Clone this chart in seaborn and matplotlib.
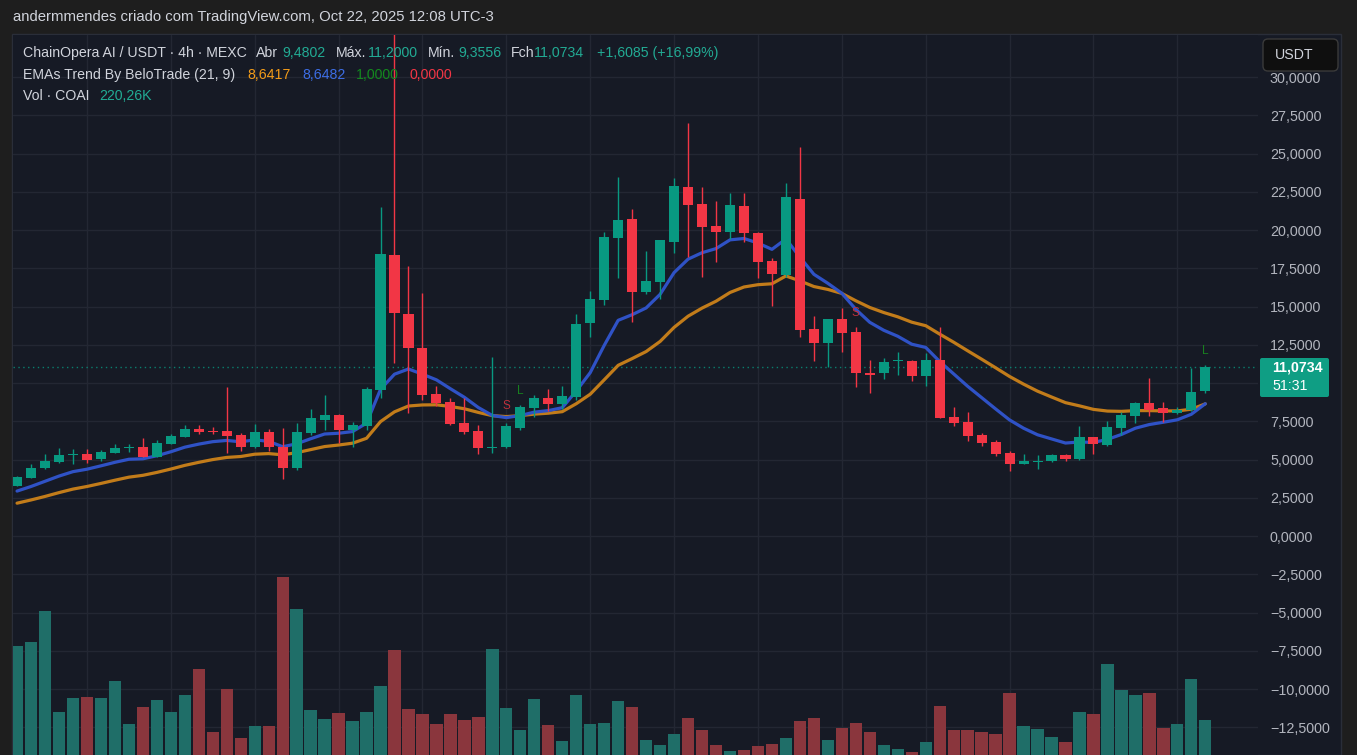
import matplotlib
matplotlib.use("Agg")
import matplotlib.pyplot as plt
from matplotlib.patches import Rectangle, FancyBboxPatch
import numpy as np
import seaborn as sns

# COAI / USDT 4h candles (oldest first)
opens = [3.29, 3.81, 4.46, 4.86, 5.30, 5.36, 5.05, 5.44, 5.75, 5.80,
         5.18, 6.03, 6.49, 6.99, 6.86, 6.86, 6.60, 5.80, 6.80, 5.80,
         4.46, 6.71, 7.60, 7.90, 6.93, 7.21, 9.54, 18.37, 14.50, 12.27,
         9.28, 8.74, 7.37, 6.86, 5.76, 5.80, 7.08, 8.39, 9.00, 8.63,
         9.10, 13.90, 15.42, 19.50, 20.72, 15.97, 16.62, 19.24, 22.83, 21.70,
         20.26, 19.89, 21.57, 19.78, 17.97, 17.06, 22.03, 13.51, 12.64, 14.18,
         13.35, 10.60, 10.63, 11.46, 11.44, 10.46, 11.50, 7.80, 7.45, 6.60,
         6.16, 5.44, 4.71, 4.84, 4.90, 5.29, 5.05, 6.45, 5.95, 7.08,
         7.86, 8.67, 8.34, 8.06, 8.23, 9.4802]
highs = [3.92, 4.71, 5.36, 5.75, 5.69, 5.71, 5.62, 6.01, 6.01, 6.40,
         6.27, 6.67, 7.25, 7.24, 7.12, 9.76, 6.75, 7.32, 7.00, 7.04,
         7.40, 8.28, 9.20, 7.95, 7.47, 9.76, 21.52, 33.50, 17.65, 15.86,
         9.80, 9.00, 9.02, 7.25, 11.68, 7.40, 8.56, 9.20, 9.60, 9.80,
         14.50, 16.00, 19.90, 23.50, 21.35, 18.60, 19.35, 23.42, 27.00, 22.83,
         21.90, 22.40, 22.40, 19.90, 18.15, 23.10, 25.45, 14.38, 14.18, 14.88,
         13.68, 11.50, 11.66, 12.05, 11.50, 11.94, 13.68, 8.45, 8.12, 6.75,
         6.30, 5.58, 5.36, 5.32, 5.36, 5.36, 7.19, 6.50, 7.50, 8.12,
         8.78, 10.30, 8.78, 8.45, 10.96, 11.20]
lows = [3.25, 3.78, 4.40, 4.80, 4.71, 4.77, 4.92, 5.40, 5.49, 5.15,
        5.15, 6.00, 6.45, 6.70, 6.67, 5.40, 5.56, 5.75, 5.58, 3.71,
        4.30, 6.60, 6.90, 6.08, 5.84, 6.93, 9.02, 11.29, 8.04, 8.89,
        8.50, 7.25, 6.67, 5.34, 5.44, 5.74, 6.93, 7.80, 8.20, 8.30,
        8.90, 13.00, 15.10, 16.84, 13.97, 15.80, 15.47, 18.52, 18.26, 16.95,
        17.90, 19.40, 19.20, 16.84, 15.05, 16.90, 13.03, 11.46, 11.07, 12.05,
        9.76, 9.33, 10.24, 10.50, 10.15, 9.80, 7.70, 7.19, 6.19, 5.86,
        5.23, 4.27, 4.70, 4.36, 4.84, 4.90, 5.00, 5.34, 5.90, 6.62,
        7.39, 7.84, 7.47, 8.00, 8.15, 9.3556]
closes = [3.88, 4.44, 4.92, 5.29, 5.36, 4.99, 5.49, 5.75, 5.80, 5.18,
          6.06, 6.54, 6.99, 6.80, 6.80, 6.56, 5.80, 6.80, 5.80, 4.46,
          6.80, 7.69, 7.90, 6.93, 7.25, 9.60, 18.43, 14.55, 12.27, 9.22,
          8.71, 7.32, 6.82, 5.73, 5.82, 7.19, 8.45, 9.00, 8.60, 9.15,
          13.86, 15.47, 19.56, 20.65, 15.97, 16.67, 19.35, 22.88, 21.63, 20.20,
          19.87, 21.63, 19.83, 17.93, 17.10, 22.13, 13.46, 12.64, 14.18, 13.29,
          10.63, 10.55, 11.35, 11.50, 10.48, 11.50, 7.73, 7.37, 6.54, 6.10,
          5.36, 4.71, 4.90, 4.90, 5.29, 5.01, 6.45, 5.99, 7.10, 7.91,
          8.67, 8.23, 8.02, 8.23, 9.41, 11.0734]
volume_k = [516, 532, 656, 252, 308, 312, 308, 376, 204, 272,
            300, 252, 320, 424, 172, 344, 148, 196, 196, 792,
            664, 260, 224, 248, 216, 252, 356, 500, 264, 244,
            204, 244, 220, 232, 504, 268, 180, 304, 200, 136,
            320, 204, 208, 296, 272, 140, 120, 164, 228, 180,
            120, 96, 100, 116, 124, 148, 216, 228, 140, 188,
            208, 172, 120, 104, 92, 132, 276, 180, 180, 172,
            164, 328, 196, 184, 152, 132, 252, 244, 444, 340,
            320, 328, 188, 204, 384, 220.26]
# EMA lines as drawn on the chart
ema9 = [2.94, 3.24, 3.58, 3.92, 4.21, 4.37, 4.59, 4.82, 5.02, 5.05,
        5.25, 5.51, 5.81, 6.01, 6.17, 6.25, 6.16, 6.29, 6.19, 5.84,
        6.03, 6.36, 6.67, 6.72, 6.83, 7.38, 9.59, 10.58, 10.92, 10.58,
        10.21, 9.63, 9.07, 8.40, 7.88, 7.74, 7.88, 8.10, 8.20, 8.39,
        9.48, 10.68, 12.46, 14.10, 14.47, 14.91, 15.80, 17.22, 18.10, 18.52,
        18.79, 19.36, 19.45, 19.15, 18.74, 19.42, 18.23, 17.11, 16.52, 15.87,
        14.82, 13.97, 13.45, 13.06, 12.54, 12.33, 11.41, 10.60, 9.79, 9.05,
        8.31, 7.59, 7.05, 6.62, 6.35, 6.08, 6.15, 6.12, 6.32, 6.64,
        7.05, 7.29, 7.44, 7.60, 7.96, 8.6482]
ema21 = [2.15, 2.36, 2.59, 2.84, 3.07, 3.24, 3.44, 3.65, 3.85, 3.97,
         4.16, 4.38, 4.62, 4.82, 5.00, 5.14, 5.20, 5.35, 5.39, 5.31,
         5.45, 5.65, 5.85, 5.95, 6.07, 6.39, 7.48, 8.12, 8.50, 8.57,
         8.58, 8.47, 8.32, 8.08, 7.87, 7.81, 7.87, 7.97, 8.03, 8.13,
         8.65, 9.27, 10.21, 11.16, 11.60, 12.06, 12.72, 13.64, 14.37, 14.90,
         15.35, 15.92, 16.28, 16.43, 16.49, 17.00, 16.68, 16.31, 16.12, 15.86,
         15.38, 14.94, 14.61, 14.33, 13.98, 13.75, 13.20, 12.67, 12.11, 11.56,
         11.00, 10.43, 9.93, 9.47, 9.09, 8.72, 8.51, 8.28, 8.17, 8.15,
         8.20, 8.20, 8.18, 8.18, 8.29, 8.6417]
# trend signals: (candle index, price, letter)
signals = [(35, 8.5, "S"), (36, 9.45, "L"), (60, 14.6, "S"), (85, 12.1, "L")]
last_price = 11.0734
price_ticks = [-12.5, -10, -7.5, -5, -2.5, 0, 2.5, 5, 7.5, 10, 12.5,
               15, 17.5, 20, 22.5, 25, 27.5, 30]
# the 10,0000 label sits under the last-price tag
hidden_ticks = [10]
day_lines = list(range(5, 86, 6))

BG = "#161a25"
OUTER = "#1e1e1e"
GRID = "#232733"
UP = "#089981"
DOWN = "#f23645"
UP_VOL = "#1f6e68"
DOWN_VOL = "#8a363d"
TXT = "#d1d4dc"
TEAL_TXT = "#22ab94"

sns.set_theme(style="dark", rc={"axes.facecolor": BG, "figure.facecolor": OUTER})
plt.rcParams['font.family'] = ['Liberation Sans', 'DejaVu Sans']

W, H = 1357, 755
def px(x):
    return x / W
def py(y):
    return 1 - y / H

fig = plt.figure(figsize=(W / 100, H / 100), dpi=100)
fig.add_artist(Rectangle((px(12), 0), px(1341) - px(12), py(34), transform=fig.transFigure,
                         facecolor=BG, edgecolor="#2a2e39", lw=1, zorder=-5))

rect = [px(13), 0, px(1258) - px(13), py(35)]
xlim = (-0.29, 88.77)
idx = np.arange(len(closes))
o = np.array(opens); c = np.array(closes)
up = c >= o

# volume sits underneath the price pane
axv = fig.add_axes(rect, zorder=0)
axv.set_facecolor(BG)
axv.bar(idx, volume_k, width=0.88, color=np.where(up, UP_VOL, DOWN_VOL), linewidth=0, zorder=2)
axv.set_xlim(*xlim)
axv.set_ylim(80, 2960)
axv.set_yticks([])
axv.set_xticks([])
for s in axv.spines.values():
    s.set_visible(False)

ax = fig.add_axes(rect, zorder=1)
ax.patch.set_visible(False)
ax.set_xlim(*xlim)
ax.set_ylim(-14.31, 32.75)

# grid drawn in the volume axes so that bars cover it
for t in price_ticks:
    axv.plot([0, 1], [t, t], transform=ax.get_yaxis_transform(), color=GRID, lw=1, zorder=1)
for d in day_lines:
    axv.axvline(d, color=GRID, lw=1, zorder=1)

sns.lineplot(x=idx, y=ema21, ax=ax, color="#c27c1a", lw=2.3, zorder=2)
sns.lineplot(x=idx, y=ema9, ax=ax, color="#2f52c6", lw=2.3, zorder=2)

cols = np.where(up, UP, DOWN)
ax.vlines(idx, lows, highs, colors=cols, lw=1, zorder=3)
body = np.maximum(np.abs(c - o), 0.08)
ax.bar(idx, body, bottom=np.minimum(o, c), width=0.72, color=cols, linewidth=0, zorder=4)

ax.axhline(last_price, color=UP, lw=1, ls=(0, (1, 2.5)), alpha=0.8, zorder=1)

for i, p, letter in signals:
    ax.text(i, p, letter, color="#c0303c" if letter == "S" else "#18801f",
            fontsize=8.5, ha="center", va="center", zorder=5)

ax.set_xticks([])
ax.set_yticks(price_ticks)
ax.yaxis.tick_right()
ax.set_yticklabels(["" if t in hidden_ticks else f"{t:.4f}".replace(".", ",").replace("-", "\u2212")
                    for t in price_ticks])
ax.tick_params(axis="y", length=0, pad=8.6, labelcolor="#b2b5be", labelsize=10.3)
ax.grid(False)
for s in ax.spines.values():
    s.set_visible(False)

# header and legend
fig.text(px(13), py(17), "andermmendes criado com TradingView.com, Oct 22, 2025 12:08 UTC-3",
         color=TXT, fontsize=10.7, va="center")
legend_rows = [
    (53, [("ChainOpera AI / USDT \u00b7 4h \u00b7 MEXC", TXT, 23), ("Abr", TXT, 256), ("9,4802", TEAL_TXT, 282),
          ("M\u00e1x.", TXT, 336), ("11,2000", TEAL_TXT, 368), ("M\u00edn.", TXT, 428), ("9,3556", TEAL_TXT, 458),
          ("Fch", TXT, 511), ("11,0734", TEAL_TXT, 534), ("+1,6085 (+16,99%)", TEAL_TXT, 597)]),
    (75, [("EMAs Trend By BeloTrade (21, 9)", TXT, 23), ("8,6417", "#f39c19", 247), ("8,6482", "#3d6ee6", 302),
          ("1,0000", "#138a1e", 356), ("0,0000", DOWN, 410)]),
    (96, [("Vol \u00b7 COAI", TXT, 23), ("220,26K", TEAL_TXT, 99)]),
]
for yrow, parts in legend_rows:
    for text, color, x in parts:
        fig.text(px(x), py(yrow), text, color=color, fontsize=10.2, va="center", zorder=6)

# currency box and last price tag on the price scale
fig.add_artist(FancyBboxPatch((1263 / 100, (H - 71) / 100), 75 / 100, 32 / 100,
                              boxstyle="round,pad=0,rounding_size=0.05", transform=fig.dpi_scale_trans,
                              facecolor="#0f0f0f", edgecolor="#3a3a3a", lw=1, zorder=10))
fig.text(px(1275), py(55), "USDT", color=TXT, fontsize=10.2, va="center", zorder=11)
fig.add_artist(FancyBboxPatch((1260 / 100, (H - 397) / 100), 69 / 100, 39 / 100,
                              boxstyle="round,pad=0,rounding_size=0.02", transform=fig.dpi_scale_trans,
                              facecolor="#0f9e84", edgecolor="none", zorder=10))
fig.text(px(1272), py(368), "11,0734", color="white", fontsize=10.2, fontweight="bold", va="center", zorder=11)
fig.text(px(1272), py(386), "51:31", color="white", fontsize=10.2, va="center", zorder=11)

fig.savefig("out.png", dpi=100, facecolor=OUTER)
